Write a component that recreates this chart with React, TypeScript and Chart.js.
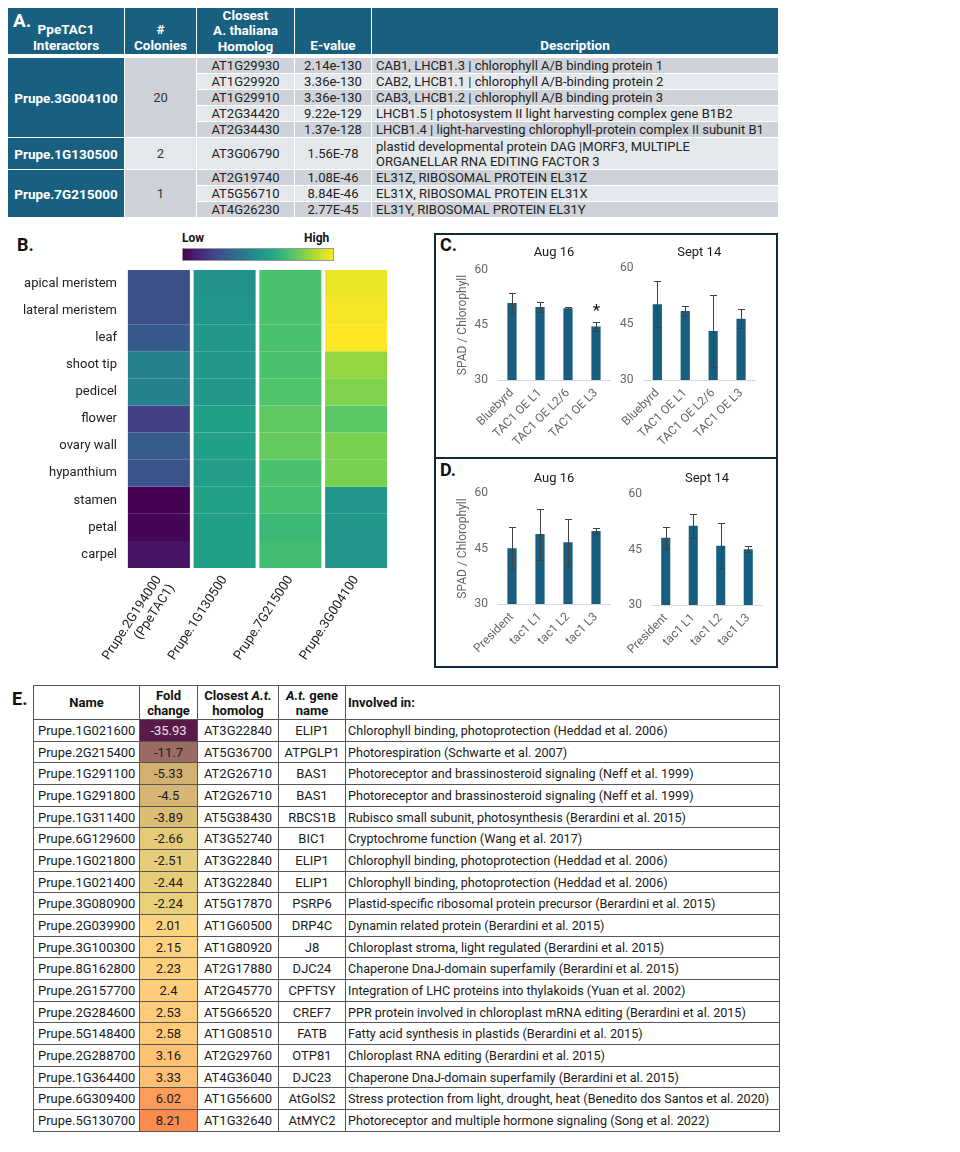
import React, { useEffect, useRef } from "react";
import { Chart, registerables } from "chart.js";

Chart.register(...registerables);

const FONT = "Roboto, 'Liberation Sans', Arial, sans-serif";

// ---------------- Panel A data ----------------
const interactors = ["Prupe.3G004100", "Prupe.1G130500", "Prupe.7G215000"];
const colonyCounts = ["20", "2", "1"];
const homologs3G004100 = ["AT1G29930", "AT1G29920", "AT1G29910", "AT2G34420", "AT2G34430"];
const homologs1G130500 = ["AT3G06790"];
const homologs7G215000 = ["AT2G19740", "AT5G56710", "AT4G26230"];
const evalues3G004100 = ["2.14e-130", "3.36e-130", "3.36e-130", "9.22e-129", "1.37e-128"];
const evalues1G130500 = ["1.56E-78"];
const evalues7G215000 = ["1.08E-46", "8.84E-46", "2.77E-45"];
const desc3G004100 = [
  "CAB1, LHCB1.3 | chlorophyll A/B binding protein 1",
  "CAB2, LHCB1.1 | chlorophyll A/B-binding protein 2",
  "CAB3, LHCB1.2 | chlorophyll A/B binding protein 3",
  "LHCB1.5 | photosystem II light harvesting complex gene B1B2",
  "LHCB1.4 | light-harvesting chlorophyll-protein complex II subunit B1",
];
const desc1G130500 = ["plastid developmental protein DAG |MORF3, MULTIPLE\nORGANELLAR RNA EDITING FACTOR 3"];
const desc7G215000 = [
  "EL31Z, RIBOSOMAL PROTEIN EL31Z",
  "EL31X, RIBOSOMAL PROTEIN EL31X",
  "EL31Y, RIBOSOMAL PROTEIN EL31Y",
];

// ---------------- Panel B data ----------------
const tissues = ["apical meristem", "lateral meristem", "leaf", "shoot tip", "pedicel", "flower", "ovary wall", "hypanthium", "stamen", "petal", "carpel"];
const heatGenes = [["Prupe.2G194000", "(PpeTAC1)"], "Prupe.1G130500", "Prupe.7G215000", "Prupe.3G004100"];
const expr2G194000 = [0.24, 0.24, 0.28, 0.43, 0.43, 0.19, 0.29, 0.26, 0.0, 0.01, 0.05];
const expr1G130500 = [0.51, 0.52, 0.53, 0.53, 0.53, 0.56, 0.56, 0.55, 0.57, 0.56, 0.56];
const expr7G215000 = [0.71, 0.71, 0.71, 0.71, 0.72, 0.75, 0.76, 0.71, 0.70, 0.67, 0.69];
const expr3G004100 = [0.97, 0.99, 1.0, 0.84, 0.81, 0.74, 0.8, 0.8, 0.52, 0.52, 0.52];

// ---------------- Panel C / D data ----------------
const oeLines = ["Bluebyrd", "TAC1 OE L1", "TAC1 OE L2/6", "TAC1 OE L3"];
const oeAug = [51.0, 49.9, 49.6, 44.6];
const oeAugErr = [2.6, 1.4, 0.25, 1.2];
const oeAugSig = [false, false, false, true];
const oeSep = [50.3, 48.5, 43.1, 46.4];
const oeSepErr = [6.1, 1.4, 9.6, 2.5];
const oeSepSig = [false, false, false, false];
const koLines = ["President", "tac1 L1", "tac1 L2", "tac1 L3"];
const koAug = [45.1, 48.9, 46.7, 49.7];
const koAugErr = [5.6, 6.9, 6.3, 0.8];
const koSep = [48.2, 51.4, 46.0, 45.1];
const koSepErr = [3.0, 3.2, 6.1, 0.8];
const noSig = [false, false, false, false];
const yTicksSpad = [30, 45, 60];

// ---------------- Panel E data ----------------
const eNames = ["Prupe.1G021600", "Prupe.2G215400", "Prupe.1G291100", "Prupe.1G291800", "Prupe.1G311400", "Prupe.6G129600", "Prupe.1G021800", "Prupe.1G021400", "Prupe.3G080900", "Prupe.2G039900", "Prupe.3G100300", "Prupe.8G162800", "Prupe.2G157700", "Prupe.2G284600", "Prupe.5G148400", "Prupe.2G288700", "Prupe.1G364400", "Prupe.6G309400", "Prupe.5G130700"];
const eFold = [-35.93, -11.7, -5.33, -4.5, -3.89, -2.66, -2.51, -2.44, -2.24, 2.01, 2.15, 2.23, 2.4, 2.53, 2.58, 3.16, 3.33, 6.02, 8.21];
const eHomolog = ["AT3G22840", "AT5G36700", "AT2G26710", "AT2G26710", "AT5G38430", "AT3G52740", "AT3G22840", "AT3G22840", "AT5G17870", "AT1G60500", "AT1G80920", "AT2G17880", "AT2G45770", "AT5G66520", "AT1G08510", "AT2G29760", "AT4G36040", "AT1G56600", "AT1G32640"];
const eGene = ["ELIP1", "ATPGLP1", "BAS1", "BAS1", "RBCS1B", "BIC1", "ELIP1", "ELIP1", "PSRP6", "DRP4C", "J8", "DJC24", "CPFTSY", "CREF7", "FATB", "OTP81", "DJC23", "AtGolS2", "AtMYC2"];
const eInvolved = [
  "Chlorophyll binding, photoprotection (Heddad et al. 2006)",
  "Photorespiration (Schwarte et al. 2007)",
  "Photoreceptor and brassinosteroid signaling (Neff et al. 1999)",
  "Photoreceptor and brassinosteroid signaling (Neff et al. 1999)",
  "Rubisco small subunit, photosynthesis (Berardini et al. 2015)",
  "Cryptochrome function (Wang et al. 2017)",
  "Chlorophyll binding, photoprotection (Heddad et al. 2006)",
  "Chlorophyll binding, photoprotection (Heddad et al. 2006)",
  "Plastid-specific ribosomal protein precursor (Berardini et al. 2015)",
  "Dynamin related protein (Berardini et al. 2015)",
  "Chloroplast stroma, light regulated (Berardini et al. 2015)",
  "Chaperone DnaJ-domain superfamily (Berardini et al. 2015)",
  "Integration of LHC proteins into thylakoids (Yuan et al. 2002)",
  "PPR protein involved in chloroplast mRNA editing (Berardini et al. 2015)",
  "Fatty acid synthesis in plastids (Berardini et al. 2015)",
  "Chloroplast RNA editing (Berardini et al. 2015)",
  "Chaperone DnaJ-domain superfamily (Berardini et al. 2015)",
  "Stress protection from light, drought, heat (Benedito dos Santos et al. 2020)",
  "Photoreceptor and multiple hormone signaling (Song et al. 2022)",
];

// ---------------- styles / colour scales ----------------
const HEADER_BLUE = "#185f80";
const BAR_BLUE = "#175e7f";
const GRAY_DARK = "#cfd3d9";
const GRAY_LIGHT = "#e5e8eb";
const TICK_GRAY = "#666666";
const VIRIDIS = ["#440154", "#482475", "#414487", "#355f8d", "#2a788e", "#21918c", "#22a884", "#44bf70", "#7ad151", "#bddf26", "#fde725"];
const FOLD_SCALE: [number, string][] = [
  [-35.93, "#5a1a48"], [-11.7, "#9c6b66"], [-5.33, "#d2b070"], [-4.5, "#d6b672"],
  [-2.24, "#e8d07a"], [2.01, "#fdd37f"], [3.33, "#fdbf72"], [6.02, "#fc9c5b"], [8.21, "#fb8b4e"],
];

function hexRgb(h: string) {
  return [parseInt(h.slice(1, 3), 16), parseInt(h.slice(3, 5), 16), parseInt(h.slice(5, 7), 16)];
}
function scaleColor(stops: [number, string][], v: number) {
  if (v <= stops[0][0]) return stops[0][1];
  for (let i = 1; i < stops.length; i++) {
    if (v <= stops[i][0]) {
      const [a, ca] = stops[i - 1];
      const [b, cb] = stops[i];
      const t = (v - a) / (b - a);
      const A = hexRgb(ca), B = hexRgb(cb);
      const c = A.map((x, k) => Math.round(x + (B[k] - x) * t));
      return `rgb(${c[0]},${c[1]},${c[2]})`;
    }
  }
  return stops[stops.length - 1][1];
}
const viridisStops: [number, string][] = VIRIDIS.map((c, i) => [i / 10, c]);
const viridis = (v: number) => scaleColor(viridisStops, v);

// ---------------- Chart helpers ----------------
function ChartBox({ left, top, width, height, build }: any) {
  const ref = useRef<HTMLCanvasElement>(null);
  useEffect(() => {
    const chart = new Chart(ref.current as HTMLCanvasElement, build());
    return () => chart.destroy();
  }, []);
  return (
    <div style={{ position: "absolute", left, top, width, height }}>
      <canvas ref={ref} width={width} height={height} style={{ width, height, display: "block" }} />
    </div>
  );
}

function errorBarsPlugin(errors: number[], sig: boolean[]) {
  return {
    id: "errorBars",
    afterDatasetsDraw(chart: any) {
      const ctx = chart.ctx;
      const meta = chart.getDatasetMeta(0);
      const ys = chart.scales.y;
      const vals = chart.data.datasets[0].data;
      ctx.save();
      ctx.strokeStyle = "#404040";
      ctx.lineWidth = 1;
      meta.data.forEach((bar: any, i: number) => {
        const x = Math.round(bar.x) + 0.5;
        const hi = Math.round(ys.getPixelForValue(vals[i] + errors[i])) + 0.5;
        const lo = Math.round(ys.getPixelForValue(vals[i] - errors[i])) + 0.5;
        ctx.beginPath();
        ctx.moveTo(x, hi); ctx.lineTo(x, lo);
        ctx.moveTo(x - 3.5, hi); ctx.lineTo(x + 3.5, hi);
        ctx.moveTo(x - 3.5, lo); ctx.lineTo(x + 3.5, lo);
        ctx.stroke();
        if (sig[i]) {
          ctx.fillStyle = "#111";
          ctx.font = `17px ${FONT}`;
          ctx.textAlign = "center";
          ctx.textBaseline = "middle";
          ctx.fillText("*", x, hi - 11);
        }
      });
      ctx.restore();
    },
  };
}

function areaTitlePlugin(text: string, y: number) {
  return {
    id: "areaTitle",
    afterDraw(chart: any) {
      const { ctx, chartArea } = chart;
      ctx.save();
      ctx.fillStyle = "#1a1a1a";
      ctx.font = `13px ${FONT}`;
      ctx.textAlign = "center";
      ctx.textBaseline = "middle";
      ctx.fillText(text, (chartArea.left + chartArea.right) / 2, y);
      ctx.restore();
    },
  };
}

function barConfig(p: any) {
  return {
    type: "bar",
    data: {
      labels: p.labels,
      datasets: [{ data: p.values, backgroundColor: BAR_BLUE, barPercentage: 0.33, categoryPercentage: 1, borderWidth: 0 }],
    },
    options: {
      animation: false,
      responsive: false,
      maintainAspectRatio: false,
      layout: { padding: { top: p.padTop, right: p.padRight, left: 0, bottom: 0 } },
      plugins: { legend: { display: false }, tooltip: { enabled: false }, title: { display: false } },
      scales: {
        x: {
          grid: { display: false, drawTicks: false },
          border: { display: true, color: "#d9d9d9", width: 1 },
          ticks: { color: TICK_GRAY, font: { family: FONT, size: 12 }, minRotation: 45, maxRotation: 45, autoSkip: false, padding: 6 },
          afterFit: (s: any) => { s.height = p.xHeight; },
        },
        y: {
          min: 30,
          max: 60,
          grid: { display: false, drawTicks: false },
          border: { display: false },
          afterBuildTicks: (s: any) => { s.ticks = yTicksSpad.map((v) => ({ value: v })); },
          ticks: { color: TICK_GRAY, font: { family: FONT, size: 12 }, padding: 10 },
          title: {
            display: !!p.yTitle,
            text: p.yTitle || "",
            color: TICK_GRAY,
            font: { family: FONT, size: 12 },
            padding: { top: 13, bottom: 0 },
          },
          afterFit: (s: any) => { s.width = p.yWidth; },
        },
      },
    },
    plugins: [errorBarsPlugin(p.errors, p.sig), areaTitlePlugin(p.title, p.titleY)],
  };
}

function heatConfig() {
  const cols = [expr2G194000, expr1G130500, expr7G215000, expr3G004100];
  return {
    type: "bar",
    data: {
      labels: heatGenes,
      datasets: tissues.map((t, r) => ({
        label: t,
        data: cols.map(() => 1),
        backgroundColor: cols.map((c) => viridis(c[r])),
        borderWidth: 0,
        barPercentage: 0.943,
        categoryPercentage: 1,
      })),
    },
    options: {
      animation: false,
      responsive: false,
      maintainAspectRatio: false,
      layout: { padding: { top: 20, right: 11, left: 0, bottom: 0 } },
      plugins: { legend: { display: false }, tooltip: { enabled: false } },
      scales: {
        x: {
          stacked: true,
          grid: { display: false, drawTicks: false },
          border: { display: false },
          ticks: { color: "#222", font: { family: FONT, size: 13 }, minRotation: 57, maxRotation: 57, autoSkip: false, padding: 5 },
          afterFit: (s: any) => { s.height = 104; },
        },
        y: {
          stacked: true,
          min: 0,
          max: 11,
          reverse: true,
          grid: { display: false, drawTicks: false },
          border: { display: false },
          afterBuildTicks: (s: any) => { s.ticks = tissues.map((_, i) => ({ value: i + 0.5 })); },
          ticks: {
            color: "#222",
            font: { family: FONT, size: 13 },
            padding: 9,
            callback: (v: any) => tissues[Math.floor(Number(v))],
          },
          afterFit: (s: any) => { s.width = 126; },
        },
      },
    },
  };
}

// ---------------- Tables ----------------
function TableA() {
  const groups = [
    { id: interactors[0], n: colonyCounts[0], h: homologs3G004100, e: evalues3G004100, d: desc3G004100 },
    { id: interactors[1], n: colonyCounts[1], h: homologs1G130500, e: evalues1G130500, d: desc1G130500 },
    { id: interactors[2], n: colonyCounts[2], h: homologs7G215000, e: evalues7G215000, d: desc7G215000 },
  ];
  const cells: any[] = [];
  const head = (col: number, content: any, extra: any = {}) =>
    cells.push(
      <div key={"h" + col} style={{ gridRow: 1, gridColumn: col, background: HEADER_BLUE, color: "#fff", fontWeight: 700, fontSize: 13.5, lineHeight: "15.5px", display: "flex", alignItems: "flex-end", justifyContent: "center", textAlign: "center", ...extra }}>
        <div>{content}</div>
      </div>
    );
  head(1, <>PpeTAC1<br />Interactors</>, { paddingBottom: 1 });
  head(2, <>#<br />Colonies</>, { paddingBottom: 1 });
  head(3, <>Closest<br />A. thaliana<br />Homolog</>);
  head(4, <>E-value</>, { paddingBottom: 1 });
  head(5, <>Description</>, { paddingBottom: 1 });
  let row = 3;
  let k = 0;
  groups.forEach((g, gi) => {
    const start = row;
    const firstBg = k % 2 === 0 ? GRAY_DARK : GRAY_LIGHT;
    g.h.forEach((h, i) => {
      const bg = k % 2 === 0 ? GRAY_DARK : GRAY_LIGHT;
      const base = { gridRow: row, background: bg, color: "#222", fontSize: 13, display: "flex", alignItems: "center", whiteSpace: "nowrap" } as any;
      cells.push(<div key={`h${gi}${i}`} style={{ ...base, gridColumn: 3, justifyContent: "center" }}>{h}</div>);
      cells.push(<div key={`e${gi}${i}`} style={{ ...base, gridColumn: 4, justifyContent: "center" }}>{g.e[i]}</div>);
      cells.push(<div key={`d${gi}${i}`} style={{ ...base, gridColumn: 5, paddingLeft: 4, whiteSpace: "pre-line", lineHeight: "15px" }}>{g.d[i]}</div>);
      row++;
      k++;
    });
    cells.push(<div key={`g${gi}`} style={{ gridRow: `${start} / ${row}`, gridColumn: 1, background: HEADER_BLUE, color: "#fff", fontWeight: 700, fontSize: 13.5, display: "flex", alignItems: "center", justifyContent: "center" }}>{g.id}</div>);
    cells.push(<div key={`n${gi}`} style={{ gridRow: `${start} / ${row}`, gridColumn: 2, background: firstBg, color: "#333", fontSize: 13, display: "flex", alignItems: "center", justifyContent: "center" }}>{g.n}</div>);
  });
  return (
    <div style={{ position: "absolute", left: 8, top: 8, width: 770, display: "grid", gridTemplateColumns: "116px 71px 97px 76px 406px", gridTemplateRows: "46px 2px repeat(5, 15px) 31px repeat(3, 15px)", gap: 1, background: "#fff", fontFamily: FONT }}>
      {cells}
      <div style={{ position: "absolute", left: 5, top: 1, color: "#fff", fontWeight: 700, fontSize: 19 }}>A.</div>
    </div>
  );
}

function TableE() {
  const cells: any[] = [];
  const hs = { gridRow: 1, background: "#fff", fontWeight: 700, fontSize: 13, lineHeight: "15px", display: "flex", alignItems: "center", justifyContent: "center", textAlign: "center", color: "#111" } as any;
  cells.push(<div key="h1" style={{ ...hs, gridColumn: 1 }}>Name</div>);
  cells.push(<div key="h2" style={{ ...hs, gridColumn: 2 }}><div>Fold<br />change</div></div>);
  cells.push(<div key="h3" style={{ ...hs, gridColumn: 3 }}><div>Closest <i>A.t.</i><br />homolog</div></div>);
  cells.push(<div key="h4" style={{ ...hs, gridColumn: 4 }}><div><i>A.t.</i> gene<br />name</div></div>);
  cells.push(<div key="h5" style={{ ...hs, gridColumn: 5, justifyContent: "flex-start", paddingLeft: 2 }}>Involved in:</div>);
  eNames.forEach((n, i) => {
    const base = { gridRow: i + 2, background: "#fff", fontSize: 13, color: "#1a1a1a", display: "flex", alignItems: "center", whiteSpace: "nowrap", overflow: "hidden" } as any;
    cells.push(<div key={`a${i}`} style={{ ...base, gridColumn: 1, paddingLeft: 4 }}>{n}</div>);
    cells.push(<div key={`b${i}`} style={{ ...base, gridColumn: 2, justifyContent: "center", background: scaleColor(FOLD_SCALE, eFold[i]), color: eFold[i] < -20 ? "#e8e0ea" : "#1a1a1a" }}>{String(eFold[i])}</div>);
    cells.push(<div key={`c${i}`} style={{ ...base, gridColumn: 3, justifyContent: "center" }}>{eHomolog[i]}</div>);
    cells.push(<div key={`d${i}`} style={{ ...base, gridColumn: 4, justifyContent: "center" }}>{eGene[i]}</div>);
    cells.push(<div key={`e${i}`} style={{ ...base, gridColumn: 5, paddingLeft: 2, fontSize: 12.6 }}>{eInvolved[i]}</div>);
  });
  return (
    <div style={{ position: "absolute", left: 33, top: 685, width: 747, display: "grid", gridTemplateColumns: "105px 57px 80px 66px 433px", gridTemplateRows: "33px repeat(19, 20.68px)", gap: 1, padding: 1, boxSizing: "border-box", background: "#555", fontFamily: FONT }}>
      {cells}
    </div>
  );
}

const panelLabel = (t: string, left: number, top: number, size = 18) => (
  <div style={{ position: "absolute", left, top, fontFamily: FONT, fontWeight: 700, fontSize: size, color: "#111", lineHeight: 1 }}>{t}</div>
);

export default function App() {
  return (
    <div style={{ position: "absolute", left: 0, top: 0, width: 960, height: 1152, background: "#fff", fontFamily: FONT }}>
      <TableA />

      {/* Panel B */}
      {panelLabel("B.", 17, 236)}
      <div style={{ position: "absolute", left: 182, top: 231, fontFamily: FONT, fontWeight: 700, fontSize: 12, color: "#111" }}>Low</div>
      <div style={{ position: "absolute", left: 304, top: 231, fontFamily: FONT, fontWeight: 700, fontSize: 12, color: "#111" }}>High</div>
      <div style={{ position: "absolute", left: 182, top: 248, width: 152, height: 13, boxSizing: "border-box", border: "1px solid #999", background: `linear-gradient(to right, ${VIRIDIS.join(",")})` }} />
      <ChartBox left={0} top={250} width={400} height={422} build={heatConfig} />

      {/* Panels C & D */}
      <div style={{ position: "absolute", left: 434, top: 233, width: 344, height: 226, boxSizing: "border-box", border: "2px solid #0e2b3b" }} />
      <div style={{ position: "absolute", left: 434, top: 457, width: 344, height: 211, boxSizing: "border-box", border: "2px solid #0e2b3b" }} />
      {panelLabel("C.", 440, 236)}
      {panelLabel("D.", 440, 461)}
      <ChartBox left={443} top={237} width={172} height={218} build={() => barConfig({ labels: oeLines, values: oeAug, errors: oeAugErr, sig: oeAugSig, title: "Aug 16", titleY: 16, yTitle: "SPAD / Chlorophyll", yWidth: 55, padTop: 33, padRight: 5, xHeight: 75 })} />
      <ChartBox left={615} top={237} width={150} height={218} build={() => barConfig({ labels: oeLines, values: oeSep, errors: oeSepErr, sig: oeSepSig, title: "Sept 14", titleY: 16, yWidth: 28, padTop: 31, padRight: 10, xHeight: 75 })} />
      <ChartBox left={443} top={462} width={172} height={204} build={() => barConfig({ labels: koLines, values: koAug, errors: koAugErr, sig: noSig, title: "Aug 16", titleY: 17, yTitle: "SPAD / Chlorophyll", yWidth: 55, padTop: 31, padRight: 5, xHeight: 62 })} />
      <ChartBox left={615} top={462} width={160} height={204} build={() => barConfig({ labels: koLines, values: koSep, errors: koSepErr, sig: noSig, title: "Sept 14", titleY: 17, yWidth: 37, padTop: 32, padRight: 13, xHeight: 61 })} />

      {/* Panel E */}
      {panelLabel("E.", 12, 690)}
      <TableE />
    </div>
  );
}
